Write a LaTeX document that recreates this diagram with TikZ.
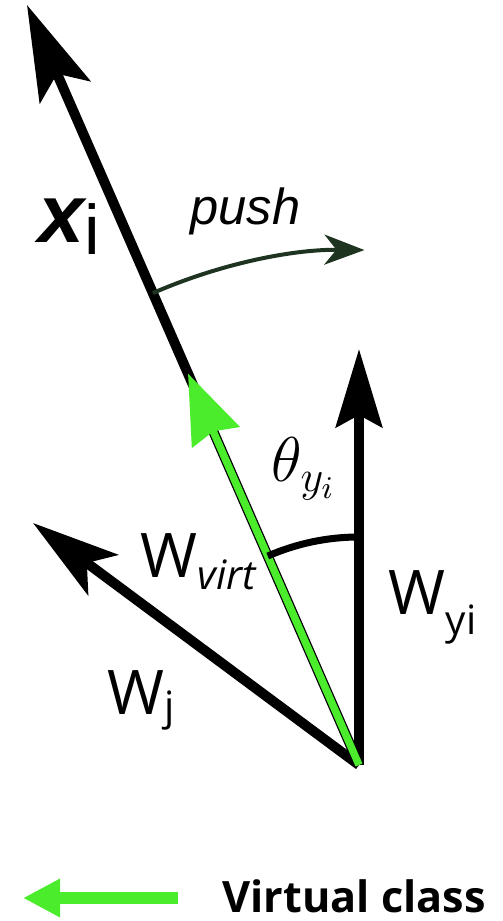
\documentclass[tikz,border=0pt]{standalone}
\usepackage{fix-cm}
\usepackage{fontspec}
\usepackage{amsmath}
\newfontfamily\wfont{Open Sans}
\newfontfamily\afont{Liberation Sans}
\usetikzlibrary{calc,arrows.meta,angles}
\definecolor{virtgreen}{HTML}{4AEC2C}
\definecolor{pushgreen}{HTML}{1F3321}
\newcommand{\wsub}[2]{W\raisebox{#2}{\fontsize{11.5}{12}\selectfont #1}}
\tikzset{
  vec/.style={black, line width=0.1cm},
  virtvec/.style={virtgreen, line width=0.075cm},
  wlbl/.style={anchor=base west, inner sep=0pt, font=\wfont\fontsize{17.5}{20}\selectfont},
}

\begin{document}
\begin{tikzpicture}
  \useasboundingbox (0,0) rectangle (5.03,9.21);

  % ---------- Vectors ----------
  \coordinate (O) at (3.59,1.56);
  \coordinate (xitip) at (0.27,9.16);
  \coordinate (wyitip) at (3.59,5.72);
  \coordinate (wjtip) at (0.33,3.98);
  \coordinate (virttip) at ($(O)!0.515!(xitip)$);

  \draw[vec, -{Stealth[length=9.5mm, width=5.5mm, inset=2mm]}] (O) -- (xitip);
  \draw[vec, -{Stealth[length=8.7mm, width=5mm, inset=2mm]}] (O) -- (wjtip);
  \draw[vec, -{Stealth[length=7.8mm, width=4.6mm, inset=1.2mm]}] (O) -- (wyitip);
  \draw[virtvec, -{Stealth[length=6.9mm, width=5.1mm, inset=0.6mm]}] (O) -- (virttip);

  % ---------- Angle and push ----------
  \pic[draw, line width=0.07cm, angle radius=2.28cm] {angle=wyitip--O--xitip};

  \coordinate (pushstart) at ($(O)!5.15cm!(xitip)$);
  \draw[pushgreen, line width=0.04cm, -{Stealth[length=4mm, width=3mm, inset=1.2mm]}]
    (pushstart) arc[start angle=113.6, end angle=89.4, radius=5.15cm];

  % ---------- Labels ----------
  \node[anchor=base west, inner sep=0pt] (xilabel) at (0.38,6.78)
    {\afont\fontsize{23.5}{24}\selectfont\bfseries\itshape x\raisebox{-0.12cm}{\mdseries\upshape\fontsize{20}{22}\selectfont i}};
  \node[anchor=base west, inner sep=0pt, font=\afont\itshape\fontsize{14.4}{16}\selectfont] (pushlabel) at (1.90,6.96) {push};
  \node[anchor=base west, inner sep=0pt, font=\fontsize{18}{20}\selectfont] (thetalabel) at (2.71,4.39) {$\theta_{y_i}$};
  \node[wlbl] (wvirtlabel) at (1.40,3.43) {\wsub{\itshape virt}{-0.12cm}};
  \node[wlbl] (wyilabel) at (3.88,3.06) {\wsub{yi}{-0.2cm}};
  \node[wlbl] (wjlabel) at (1.07,2.06) {\wsub{j}{-0.06cm}};

  % ---------- Legend ----------
  \coordinate (legtail) at (1.78,0.23);
  \coordinate (leghead) at (0.23,0.23);
  \draw[virtgreen, line width=0.11cm, -{Triangle[length=3.7mm, width=3.6mm]}] (legtail) -- (leghead);
  \node[anchor=base west, inner sep=0pt, font=\wfont\bfseries\fontsize{12.3}{14}\selectfont] (legendlabel) at (2.22,0.09) {Virtual class};
\end{tikzpicture}
\end{document}
